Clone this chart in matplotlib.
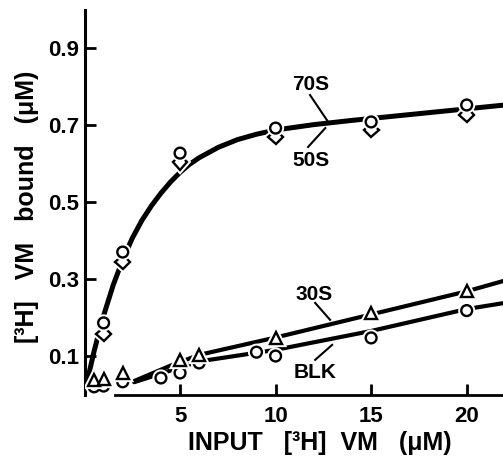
import matplotlib
matplotlib.use("Agg")
import matplotlib.pyplot as plt
import matplotlib.patheffects as pe

plt.rcParams['font.family'] = ['Liberation Sans', 'DejaVu Sans']
plt.rcParams['font.weight'] = 'bold'

# --- data ---
x_70s = [1, 2, 5, 10, 15, 20]
y_70s = [0.186, 0.370, 0.627, 0.692, 0.708, 0.752]
x_50s = [1, 2, 5, 10, 15, 20]
y_50s = [0.157, 0.344, 0.603, 0.669, 0.687, 0.727]
x_30s = [0.5, 1, 2, 5, 6, 10, 15, 20]
y_30s = [0.038, 0.040, 0.056, 0.090, 0.103, 0.147, 0.212, 0.269]
x_blk = [0.5, 1, 2, 4, 5, 6, 9, 10, 15, 20]
y_blk = [0.020, 0.022, 0.033, 0.043, 0.056, 0.082, 0.110, 0.100, 0.147, 0.218]

# hand-drawn curves (vertices)
curve_ribo_x = [0, 0.25, 0.5, 0.75, 1, 1.5, 2, 2.5, 3, 3.5, 4, 4.5, 5, 5.5, 6, 7, 8, 9,
                10, 12, 14, 16, 18, 20, 22]
curve_ribo_y = [0.005, 0.058, 0.112, 0.160, 0.205, 0.284, 0.350, 0.406, 0.452, 0.490,
                0.523, 0.552, 0.577, 0.598, 0.615, 0.642, 0.662, 0.676, 0.687, 0.701,
                0.712, 0.722, 0.732, 0.742, 0.752]
curve_30s_x = [2.6, 4.5, 6, 10, 15, 20, 22]
curve_30s_y = [0.035, 0.075, 0.103, 0.148, 0.208, 0.268, 0.296]
curve_blk_x = [2.6, 6, 10, 15, 20, 22]
curve_blk_y = [0.032, 0.086, 0.116, 0.165, 0.222, 0.238]

x_ticks = [5, 10, 15, 20]
y_ticks = [0.1, 0.3, 0.5, 0.7, 0.9]
y_ticklabels = ['0.1', '0.3', '0.5', '0.7', '0.9']

fig = plt.figure(figsize=(5.03, 4.66), dpi=100)
ax = fig.add_axes([0.168, 0.1534, 0.832, 0.8262])
ax.set_xlim(0, 21.9)
ax.set_ylim(0, 1.0)

lw_main = 3.6
ax.plot(curve_ribo_x, curve_ribo_y, color='black', lw=lw_main, solid_capstyle='round',
        solid_joinstyle='round', zorder=2)
ax.plot(curve_30s_x, curve_30s_y, color='black', lw=3.0, solid_capstyle='round', zorder=2)
ax.plot(curve_blk_x, curve_blk_y, color='black', lw=3.0, solid_capstyle='round', zorder=2)

halo = [pe.Stroke(linewidth=4.5, foreground='white'), pe.Normal()]
mk = dict(linestyle='none', markerfacecolor='white', markeredgecolor='black',
          markeredgewidth=1.7, path_effects=halo)
ax.plot(x_50s, y_50s, marker='D', markersize=7.5, zorder=3, **mk)
ax.plot(x_70s, y_70s, marker='o', markersize=7.8, zorder=4, **mk)
ax.plot(x_blk, y_blk, marker='o', markersize=7.8, zorder=3, **mk)
ax.plot(x_30s, y_30s, marker='^', markersize=8.5, zorder=4, **mk)

# labels with pointer lines
fs = 15
ax.text(11.86, 0.806, '70S', fontsize=fs, fontweight='bold', ha='center', va='center')
ax.plot([11.8, 12.75], [0.778, 0.708], color='black', lw=1.5)
ax.text(11.86, 0.609, '50S', fontsize=fs, fontweight='bold', ha='center', va='center')
ax.plot([11.7, 12.6], [0.643, 0.692], color='black', lw=1.5)
ax.text(12.0, 0.261, '30S', fontsize=fs, fontweight='bold', ha='center', va='center')
ax.plot([12.07, 12.85], [0.238, 0.194], color='black', lw=1.5)
ax.text(12.07, 0.056, 'BLK', fontsize=fs, fontweight='bold', ha='center', va='center')
ax.plot([12.07, 12.96], [0.09, 0.129], color='black', lw=1.5)

for s in ['top', 'right']:
    ax.spines[s].set_visible(False)
ax.spines['left'].set_linewidth(2.2)
ax.spines['bottom'].set_linewidth(2.0)
ax.spines['bottom'].set_bounds(1.6, 21.9)

ax.set_xticks(x_ticks)
ax.set_xticklabels([str(v) for v in x_ticks])
ax.set_yticks(y_ticks)
ax.set_yticklabels(y_ticklabels)
ax.tick_params(axis='both', direction='in', length=8, width=2.0, labelsize=16)
ax.tick_params(axis='x', pad=8)
ax.tick_params(axis='y', pad=4)
for lab in ax.get_xticklabels() + ax.get_yticklabels():
    lab.set_fontweight('bold')

fig.text(0.636, 0.049, 'INPUT   [³H]  VM   (μM)', fontsize=18, fontweight='bold',
         ha='center', va='center')
fig.text(0.054, 0.556, '[³H]   VM   bound   (μM)', fontsize=18, fontweight='bold',
         ha='center', va='center', rotation=90)

fig.savefig('out.png', dpi=100)
